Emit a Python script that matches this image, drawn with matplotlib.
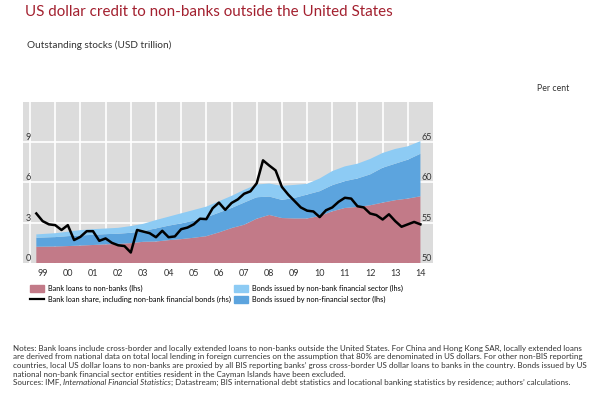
import numpy as np
import matplotlib.pyplot as plt
from matplotlib.patches import Patch
from matplotlib.lines import Line2D

# stocks (USD trillion), half-yearly readings
area_dates = [1999.25, 2000.0, 2000.5, 2001.0, 2001.5, 2002.0, 2002.5, 2003.0, 2003.5,
              2004.0, 2004.5, 2005.0, 2005.5, 2006.0, 2006.5, 2007.0, 2007.5, 2008.0,
              2008.5, 2009.0, 2009.5, 2010.0, 2010.5, 2011.0, 2011.5, 2012.0, 2012.5,
              2013.0, 2013.5, 2014.0, 2014.5]
bank_loans = [1.21, 1.23, 1.26, 1.30, 1.34, 1.39, 1.42, 1.48, 1.58,
              1.60, 1.70, 1.78, 1.88, 2.00, 2.28, 2.60, 2.85, 3.30,
              3.58, 3.35, 3.32, 3.32, 3.50, 3.85, 4.10, 4.18, 4.30,
              4.50, 4.68, 4.80, 4.97]
nonfin_bonds = [0.67, 0.70, 0.74, 0.75, 0.76, 0.76, 0.76, 0.77, 0.80,
                0.98, 1.08, 1.17, 1.27, 1.40, 1.47, 1.50, 1.65, 1.60,
                1.37, 1.35, 1.53, 1.78, 1.85, 1.95, 2.00, 2.12, 2.30,
                2.60, 2.72, 2.90, 3.17]
nonbank_fin_bonds = [0.25, 0.29, 0.33, 0.40, 0.42, 0.42, 0.44, 0.50, 0.54,
                     0.62, 0.67, 0.75, 0.80, 0.80, 0.85, 0.90, 0.95, 0.95,
                     0.97, 1.05, 0.97, 0.80, 0.95, 1.05, 1.10, 1.10, 1.15,
                     1.10, 1.10, 1.00, 0.94]

# bank loan share (per cent), quarterly 1999Q1 .. 2014Q2
share_dates = np.arange(1999.25, 2014.51, 0.25)
loan_share = [56.15, 55.2, 54.8,
              54.7, 54.1, 54.7, 52.85,
              53.25, 53.95, 53.95, 52.75,
              53.05, 52.5, 52.2, 52.1,
              51.3, 54.1, 53.9, 53.7,
              53.2, 54.0, 53.2, 53.3,
              54.2, 54.4, 54.8, 55.5,
              55.45, 56.8, 57.5, 56.6,
              57.45, 57.9, 58.6, 58.9,
              59.9, 62.75, 62.1, 61.5,
              59.45, 58.5, 57.7, 56.9,
              56.5, 56.4, 55.7, 56.55,
              56.9, 57.6, 58.1, 58.0,
              57.05, 56.9, 56.15, 55.95,
              55.4, 56.05, 55.2, 54.5,
              54.8, 55.1, 54.8]

year_ticks = list(range(2000, 2015))
year_labels = ['99', '00', '01', '02', '03', '04', '05', '06', '07', '08',
               '09', '10', '11', '12', '13', '14']

c_loans = '#C27A88'
c_nonfin = '#5CA4DE'
c_nbfin = '#8DCBF4'
c_bg = '#DCDCDC'
c_title = '#A3202F'
c_tick = '#7A1F2B'
c_text = '#333333'

plt.rcParams['font.family'] = ['Lato', 'DejaVu Sans']

fig = plt.figure(figsize=(6, 3.99), dpi=100)
ax = fig.add_axes([0.0383, 0.3409, 0.6834, 0.4035])
ax.set_facecolor(c_bg)
ax.stackplot(area_dates, bank_loans, nonfin_bonds, nonbank_fin_bonds,
             colors=[c_loans, c_nonfin, c_nbfin], linewidth=0, zorder=2)
ax.set_xlim(1998.72, 2015.0)
ax.set_ylim(0, 12)

# white grid behind the areas, at year boundaries and at the left ticks
for yr in range(1999, 2015):
    ax.axvline(yr, color='white', lw=1.2, zorder=1)
for lev in [3, 6, 9]:
    ax.axhline(lev, color='white', lw=1.2, zorder=1)

ax.set_yticks([0, 3, 6, 9])
ax.tick_params(axis='y', length=0, pad=-2, labelsize=6.5, labelcolor=c_text)
plt.setp(ax.get_yticklabels(), ha='left', va='bottom')

ax.set_xticks(year_ticks)
ax.set_xticklabels([])
ax.tick_params(axis='x', which='major', direction='in', length=5, width=1.2,
               color=c_tick)
ax.set_xticks([y + 0.5 for y in range(1999, 2015)], minor=True)
ax.set_xticklabels(year_labels, minor=True)
ax.tick_params(axis='x', which='minor', length=0, pad=4, labelsize=6.5,
               labelcolor=c_text)
for s in ax.spines.values():
    s.set_visible(False)

ax2 = ax.twinx()
ax2.plot(share_dates, loan_share, color='black', lw=1.8, zorder=5)
ax2.set_ylim(50, 70)
ax2.set_yticks([50, 55, 60, 65])
ax2.tick_params(axis='y', length=0, pad=-1, labelsize=6.5, labelcolor=c_text)
plt.setp(ax2.get_yticklabels(), ha='right', va='bottom')
for s in ax2.spines.values():
    s.set_visible(False)

fig.text(0.042, 0.970, 'US dollar credit to non-banks outside the United States',
         color=c_title, fontsize=10.9, va='center')
fig.text(0.045, 0.887, 'Outstanding stocks (USD trillion)', color=c_text,
         fontsize=7.2, va='center')
fig.text(0.895, 0.779, 'Per cent', color=c_text, fontsize=6.3, va='center')

handles = [Patch(color=c_loans), Line2D([], [], color='black', lw=1.6),
           Patch(color=c_nbfin), Patch(color=c_nonfin)]
labels = ['Bank loans to non-banks (lhs)',
          'Bank loan share, including non-bank financial bonds (rhs)',
          'Bonds issued by non-bank financial sector (lhs)',
          'Bonds issued by non-financial sector (lhs)']
fig.legend(handles, labels, ncol=2, loc='upper left', bbox_to_anchor=(0.050, 0.286),
           frameon=False, handlelength=1.9, handleheight=1.0,
           handletextpad=0.5, columnspacing=0.5, labelspacing=0.55,
           borderaxespad=0, borderpad=0, fontsize=5.3)

notes = [
    'Notes: Bank loans include cross-border and locally extended loans to non-banks outside the United States. For China and Hong Kong SAR, locally extended loans',
    'are derived from national data on total local lending in foreign currencies on the assumption that 80% are denominated in US dollars. For other non-BIS reporting',
    'countries, local US dollar loans to non-banks are proxied by all BIS reporting banks\u2019 gross cross-border US dollar loans to banks in the country. Bonds issued by US',
    'national non-bank financial sector entities resident in the Cayman Islands have been excluded.',
]
note_size = 5.75
for i, line in enumerate(notes):
    fig.text(0.021, 1 - (348 + 8.7 * i) / 399, line, fontsize=note_size,
             color=c_text, va='center')

# sources line: plain / italic / plain pieces placed one after another
y_src = 1 - (348 + 8.7 * 4) / 399
pieces = [('Sources: IMF, ', 'normal'),
          ('International Financial Statistics', 'italic'),
          ('; Datastream; BIS international debt statistics and locational banking '
           'statistics by residence; authors\u2019 calculations.', 'normal')]
renderer = fig.canvas.get_renderer()
x_pos = 0.021
for txt, style in pieces:
    t = fig.text(x_pos, y_src, txt, fontsize=note_size, color=c_text,
                 va='center', style=style)
    bb = t.get_window_extent(renderer=renderer)
    x_pos += bb.width / fig.bbox.width

fig.savefig('out.png', dpi=100)
